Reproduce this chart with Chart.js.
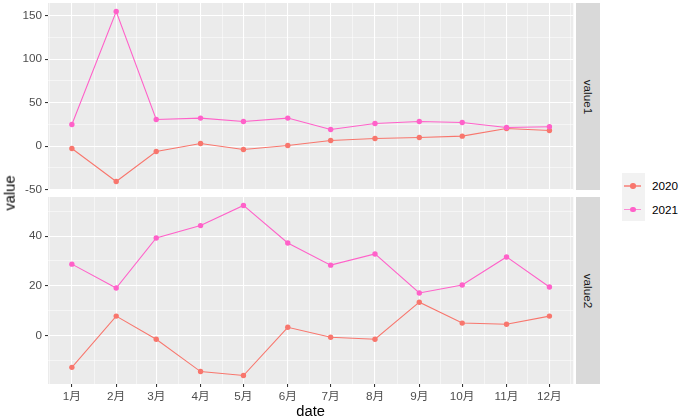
<!DOCTYPE html>
<html><head><meta charset="utf-8">
<script src="https://cdn.jsdelivr.net/npm/chart.js@4/dist/chart.umd.min.js"></script>
<style>
html,body{margin:0;padding:0;background:#fff;}
#wrap{position:relative;width:684px;height:419px;overflow:hidden;font-family:"Liberation Sans",Arial,"Noto Sans CJK SC",sans-serif;}
canvas{position:absolute;left:0;}
#c1{top:0;}
#c2{top:193px;}
.strip{position:absolute;left:576px;width:24px;background:#D9D9D9;}
.strip span{position:absolute;left:50%;top:50%;transform:translate(-50%,-50%) rotate(90deg);font-size:11.7px;color:#1A1A1A;white-space:nowrap;line-height:1;}
#ytitle{position:absolute;left:10px;top:193px;transform:translate(-50%,-50%) rotate(-90deg);font-size:14.7px;color:#000;white-space:nowrap;line-height:1;}
#lkey{position:absolute;left:622px;top:173px;width:23px;height:48px;background:#F2F2F2;}
.lline{position:absolute;left:624px;width:17px;height:1.5px;}
.ldot{position:absolute;width:5.5px;height:5.5px;border-radius:50%;}
.ltxt{position:absolute;left:652px;font-size:11.7px;color:#000;line-height:1;transform:translateY(-50%);}
</style>
</head><body>
<div id="wrap">
  <canvas id="c1" width="576" height="193"></canvas>
  <canvas id="c2" width="576" height="226"></canvas>
  <div class="strip" style="top:3px;height:187px;"><span>value1</span></div>
  <div class="strip" style="top:197px;height:187px;"><span>value2</span></div>
  <div id="ytitle">value</div>
  <div id="lkey"></div>
  <div class="lline" style="top:185px;background:#F8766D;opacity:0.7"></div>
  <div class="ldot" style="left:630.3px;top:183px;background:#F8766D"></div>
  <div class="lline" style="top:208.5px;background:#FF61C9;opacity:0.7"></div>
  <div class="ldot" style="left:630.3px;top:206.5px;background:#FF61C9"></div>
  <div class="ltxt" style="top:186px">2020</div>
  <div class="ltxt" style="top:209.5px">2021</div>
</div>
<script>
// ---- data ----
const months = ['1月','2月','3月','4月','5月','6月','7月','8月','9月','10月','11月','12月'];
const series = ['2020','2021'];
const value1_2020 = [-2.7, -40.6, -6.2, 3.0, -3.9, 0.7, 6.4, 8.7, 9.9, 11.5, 20.2, 17.9];
const value1_2021 = [24.8, 154.6, 30.6, 32.2, 28.3, 32.2, 19.1, 26.0, 28.3, 27.1, 21.4, 22.2];
const value2_2020 = [-12.8, 7.8, -1.5, -14.5, -16.1, 3.3, -0.7, -1.5, 13.4, 5.0, 4.5, 7.8];
const value2_2021 = [28.7, 19.1, 39.2, 44.2, 52.3, 37.2, 28.3, 32.8, 17.1, 20.3, 31.6, 19.5];
const yTicks1 = [-50, 0, 50, 100, 150];
const yTicks2 = [0, 20, 40];

// dates: first day of each month (non-leap year), as day offset from Jan 1
const dayOf = m => (Date.UTC(2021, m, 1) - Date.UTC(2021, 0, 1)) / 86400000;
const days = months.map((_, i) => dayOf(i));
const labelMap = new Map(days.map((d, i) => [d, months[i]]));

const colors = {'2020': '#F8766D', '2021': '#FF61C9'};

function minorOf(maj, lo, hi) {
  const out = [];
  const step0 = maj[1] - maj[0], stepN = maj[maj.length-1] - maj[maj.length-2];
  out.push(maj[0] - step0 / 2);
  for (let i = 0; i < maj.length - 1; i++) out.push((maj[i] + maj[i+1]) / 2);
  out.push(maj[maj.length-1] + stepN / 2);
  return out.filter(v => v >= lo && v <= hi);
}
function yMinorOf(maj, lo, hi) {
  const step = maj[1] - maj[0];
  const ext = [maj[0] - step, ...maj, maj[maj.length-1] + step];
  const out = [];
  for (let i = 0; i < ext.length - 1; i++) out.push((ext[i] + ext[i+1]) / 2);
  return out.filter(v => v >= lo && v <= hi);
}

const xMin = -16.7, xMax = 350.7;
const xMinor = minorOf(days, xMin, xMax);
const xMajorSet = new Set(days);
const xAll = [...days, ...xMinor].sort((a, b) => a - b);

const bgPlugin = {
  id: 'panelbg',
  beforeDraw(chart) {
    const {ctx, chartArea: a} = chart;
    ctx.save(); ctx.fillStyle = '#EBEBEB';
    ctx.fillRect(a.left, a.top, a.right - a.left, a.bottom - a.top);
    ctx.restore();
  }
};

const FONT = '"Liberation Sans", Arial, "Noto Sans CJK SC", sans-serif';
Chart.defaults.font.family = FONT;

function makeChart(id, d2020, d2021, yMin, yMax, yMaj, showX, pad) {
  const yMinor = yMinorOf(yMaj, yMin, yMax);
  const yMajSet = new Set(yMaj);
  const yAll = [...yMaj, ...yMinor].sort((a, b) => a - b);
  const pts = arr => arr.map((v, i) => ({x: days[i], y: v}));
  const ds = [];
  [['2020', d2020], ['2021', d2021]].forEach(([name, arr], k) => {
    ds.push({label: name, data: pts(arr), borderColor: colors[name], borderWidth: 1.07,
      pointRadius: 0, fill: false, tension: 0, order: 10 - k});
  });
  [['2020', d2020], ['2021', d2021]].forEach(([name, arr], k) => {
    ds.push({label: name + ' pts', data: pts(arr), showLine: false, pointRadius: 2.7,
      pointBackgroundColor: colors[name], pointBorderWidth: 0, pointHoverRadius: 2.7, order: 5 - k});
  });
  return new Chart(document.getElementById(id), {
    type: 'line',
    data: {datasets: ds},
    plugins: [bgPlugin],
    options: {
      responsive: false, animation: false, devicePixelRatio: 1,
      layout: {padding: pad},
      plugins: {legend: {display: false}, tooltip: {enabled: false}},
      events: [],
      scales: {
        x: {
          type: 'linear', min: xMin, max: xMax,
          afterBuildTicks: s => { s.ticks = xAll.map(v => ({value: v})); },
          afterFit: s => { s.paddingLeft = 0; s.paddingRight = 0; s.height = showX ? 35 : 0; },
          border: {display: false},
          grid: {
            color: '#FFFFFF',
            lineWidth: c => xMajorSet.has(c.tick && c.tick.value) ? 1.07 : 0.53,
            drawTicks: showX, tickLength: 3, tickWidth: 1.07,
            tickColor: c => xMajorSet.has(c.tick && c.tick.value) ? '#333333' : 'rgba(0,0,0,0)'
          },
          ticks: {
            display: showX, autoSkip: false, maxRotation: 0, minRotation: 0, padding: 3,
            color: '#4D4D4D', font: {size: 11.7},
            callback: v => labelMap.has(v) ? labelMap.get(v) : ''
          },
          title: showX ? {display: true, text: 'date', color: '#000000', font: {size: 14.7, lineHeight: 1}, padding: 0} : {display: false}
        },
        y: {
          type: 'linear', min: yMin, max: yMax,
          afterBuildTicks: s => { s.ticks = yAll.map(v => ({value: v})); },
          afterFit: s => { s.width = 48; s.paddingTop = 0; s.paddingBottom = 0; },
          border: {display: false},
          grid: {
            color: '#FFFFFF',
            lineWidth: c => yMajSet.has(c.tick && c.tick.value) ? 1.07 : 0.53,
            drawTicks: true, tickLength: 3, tickWidth: 1.07,
            tickColor: c => yMajSet.has(c.tick && c.tick.value) ? '#333333' : 'rgba(0,0,0,0)'
          },
          ticks: {
            autoSkip: false, padding: 3, color: '#4D4D4D', font: {size: 11.7},
            callback: v => yMajSet.has(v) ? String(v) : ''
          }
        }
      }
    }
  });
}

makeChart('c1', value1_2020, value1_2021, -50.36, 164.36, yTicks1, false, {top: 3, bottom: 3, left: 0, right: 1});
makeChart('c2', value2_2020, value2_2021, -19.5, 55.7, yTicks2, true, {top: 4, bottom: 0, left: 0, right: 1});
</script>
</body></html>
